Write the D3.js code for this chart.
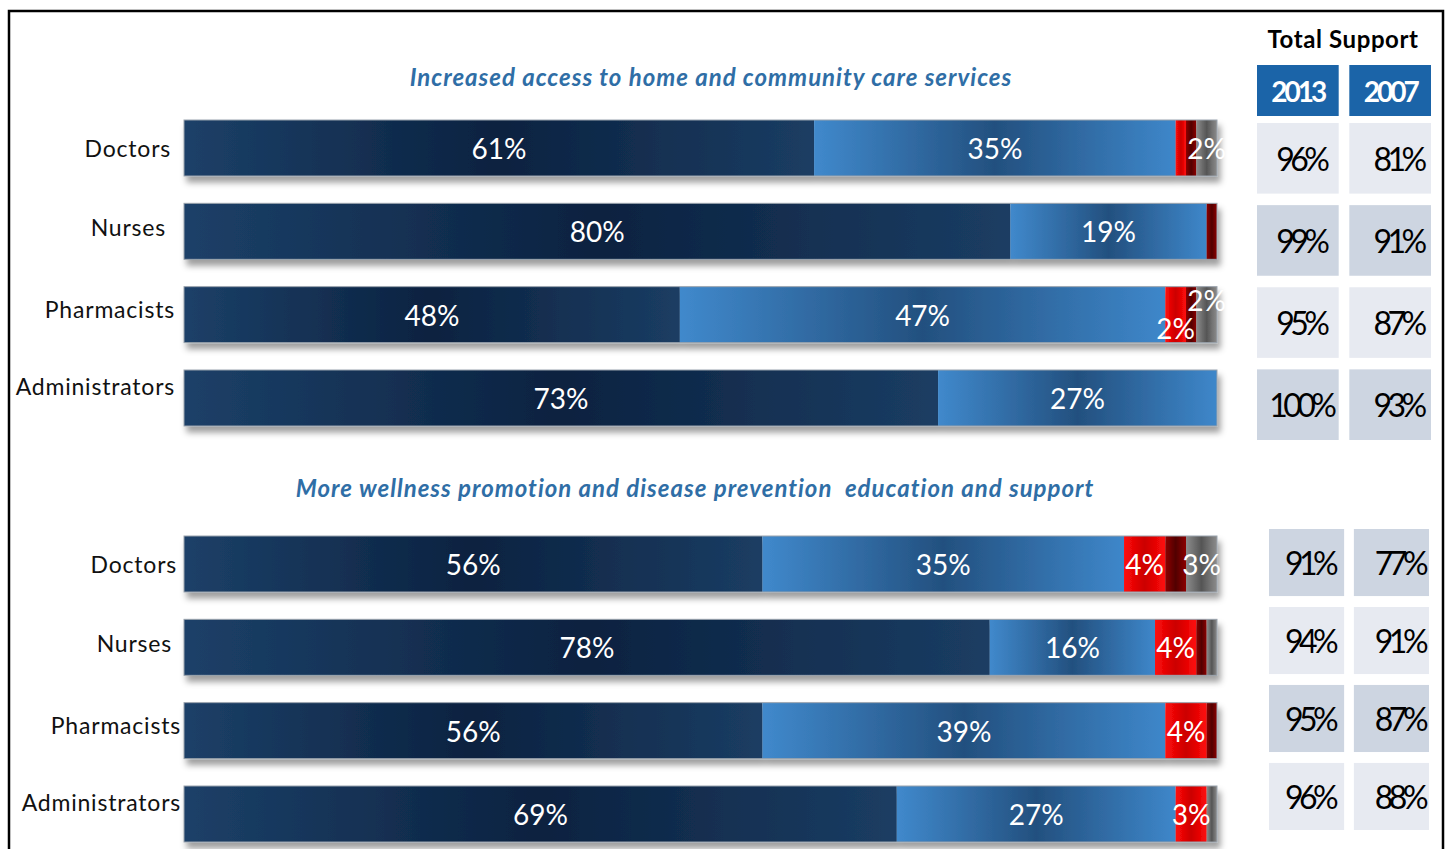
<!DOCTYPE html>
<html>
<head>
<meta charset="utf-8">
<script src="https://cdn.jsdelivr.net/npm/d3@7"></script>
<style>
  body { margin: 0; background: #fff; }
  svg { display: block; }
  text { font-family: Lato, "Open Sans", "DejaVu Sans", sans-serif; }
</style>
</head>
<body>
<svg id="chart" width="1452" height="849"></svg>
<script>
// ---- data -------------------------------------------------------------
const categories = ["Doctors", "Nurses", "Pharmacists", "Administrators"];
const sectionTitles = [
  "Increased access to home and community care services",
  "More wellness promotion and disease prevention  education and support"
];
const seriesKeys = ["strongSupport", "someSupport", "someOppose", "strongOppose", "unsure"];

// Section 1: home and community care
const strongSupport1 = [61, 80, 48, 73];
const someSupport1   = [35, 19, 47, 27];
const someOppose1    = [1, 0, 2, 0];
const strongOppose1  = [1, 1, 1, 0];
const unsure1        = [2, 0, 2, 0];

// Section 2: wellness promotion and prevention
const strongSupport2 = [56, 78, 56, 69];
const someSupport2   = [35, 16, 39, 27];
const someOppose2    = [4, 4, 4, 3];
const strongOppose2  = [2, 1, 1, 0];
const unsure2        = [3, 1, 0, 1];

// Total support columns
const years = ["2013", "2007"];
const total2013_1 = [96, 99, 95, 100];
const total2007_1 = [81, 91, 87, 93];
const total2013_2 = [91, 94, 95, 96];
const total2007_2 = [77, 91, 87, 88];

// ---- assembled tables -------------------------------------------------
function rows(series) {
  return categories.map((c, i) => {
    const r = { category: c };
    seriesKeys.forEach((k, j) => { r[k] = series[j][i]; });
    return r;
  });
}
const sections = [
  {
    title: sectionTitles[0],
    rows: rows([strongSupport1, someSupport1, someOppose1, strongOppose1, unsure1]),
    totals: [total2013_1, total2007_1]
  },
  {
    title: sectionTitles[1],
    rows: rows([strongSupport2, someSupport2, someOppose2, strongOppose2, unsure2]),
    totals: [total2013_2, total2007_2]
  }
];

// ---- styling / layout -------------------------------------------------
const seriesStyle = {
  strongSupport: { stops: ["#1c4068", "#0b2240", "#1b3d63"], label: true },
  someSupport:   { stops: ["#4089cc", "#23507f", "#3e87ca"], label: true },
  someOppose:    { stops: ["#ff0a0a", "#cc0000", "#ff0a0a"], label: true },
  strongOppose:  { stops: ["#8c0000", "#520000", "#8c0000"], label: false },
  unsure:        { stops: ["#8c8c8c", "#555555", "#8c8c8c"], label: true }
};
const layout = [
  { barTop: 120, barBottom: 426, titleX: 711, titleY: 86,
    tableTop: 123, tableBottom: 440, tableX: [1257, 1431], labelRight: 175, shade0: 0 },
  { barTop: 536, barBottom: 842, titleX: 695, titleY: 497,
    tableTop: 529, tableBottom: 830, tableX: [1269, 1429], labelRight: 181, shade0: 1 }
];
const labelNudgeX = [-4, -9, 0, 0];
const labelNudgeY = [0, -4, -6, -12];
const cellShades = ["#e7eaf1", "#cdd5e1"];

const svg = d3.select("#chart");
const defs = svg.append("defs");

// horizontal sheen gradient for each series
seriesKeys.forEach(k => {
  const g = defs.append("linearGradient").attr("id", "grad-" + k)
    .attr("x1", 0).attr("x2", 1).attr("y1", 0).attr("y2", 0);
  const s = seriesStyle[k].stops;
  g.append("stop").attr("offset", "0%").attr("stop-color", s[0]);
  g.append("stop").attr("offset", "50%").attr("stop-color", s[1]);
  g.append("stop").attr("offset", "100%").attr("stop-color", s[2]);
});

const shadow = defs.append("filter").attr("id", "barShadow")
  .attr("x", "-2%").attr("y", "-20%").attr("width", "104%").attr("height", "170%");
shadow.append("feDropShadow").attr("dx", 3).attr("dy", 6)
  .attr("stdDeviation", 3).attr("flood-color", "#000").attr("flood-opacity", 0.38);

// outer frame
svg.append("rect").attr("x", 9).attr("y", 11).attr("width", 1434).attr("height", 860)
  .attr("fill", "none").attr("stroke", "#000").attr("stroke-width", 2.5);

const x = d3.scaleLinear().domain([0, 100]).range([184, 1217]);
const stack = d3.stack().keys(seriesKeys);

sections.forEach((sec, si) => {
  const L = layout[si];
  const y = d3.scaleBand().domain(categories)
    .range([L.barTop, L.barBottom]).paddingInner(0.328);

  // section title
  svg.append("text")
    .attr("x", L.titleX).attr("y", L.titleY)
    .attr("text-anchor", "middle")
    .style("white-space", "pre")
    .attr("font-size", 24).attr("letter-spacing", 1)
    .attr("font-weight", 700).attr("font-style", "italic")
    .attr("fill", "#2f6ea6")
    .text(sec.title);

  // category labels
  svg.append("g").selectAll("text").data(categories).join("text")
    .attr("x", (d, i) => L.labelRight + labelNudgeX[i])
    .attr("y", (d, i) => y(d) + y.bandwidth() / 2 + labelNudgeY[i])
    .attr("text-anchor", "end").attr("dominant-baseline", "central")
    .attr("font-size", 23).attr("letter-spacing", 0.8).attr("fill", "#111")
    .text(d => d);

  const stacked = stack(sec.rows);

  // bars, one shadowed group per row
  const rowG = svg.append("g").selectAll("g.row").data(categories).join("g")
    .attr("class", "row").attr("filter", "url(#barShadow)");
  rowG.each(function (cat, ri) {
    const g = d3.select(this);
    stacked.forEach(layer => {
      const seg = layer[ri];
      if (seg[1] - seg[0] <= 0) return;
      g.append("rect")
        .attr("x", x(seg[0])).attr("y", y(cat))
        .attr("width", x(seg[1]) - x(seg[0])).attr("height", y.bandwidth())
        .attr("fill", "url(#grad-" + layer.key + ")");
    });
    g.append("rect")
      .attr("x", x(0)).attr("y", y(cat))
      .attr("width", x(100) - x(0)).attr("height", y.bandwidth())
      .attr("fill", "none").attr("stroke", "#9aa3ad").attr("stroke-width", 1);
  });

  // segment value labels
  categories.forEach((cat, ri) => {
    const labels = [];
    stacked.forEach(layer => {
      const seg = layer[ri];
      const v = seg[1] - seg[0];
      if (!seriesStyle[layer.key].label || v < 2) return;
      labels.push({ cx: (x(seg[0]) + x(seg[1])) / 2, dy: 0, text: v + "%" });
    });
    // stagger labels that would collide
    for (let i = 1; i < labels.length; i++) {
      if (labels[i].cx - labels[i - 1].cx < 40) {
        labels[i - 1].dy = 13;
        labels[i].dy = -15;
      }
    }
    svg.append("g").selectAll("text").data(labels).join("text")
      .attr("x", d => d.cx)
      .attr("y", d => y(cat) + y.bandwidth() / 2 + d.dy)
      .attr("text-anchor", "middle").attr("dominant-baseline", "central")
      .attr("font-size", 28).attr("fill", "#fff")
      .text(d => d.text);
  });

  // total support table
  const col = d3.scaleBand().domain(years).range(L.tableX).paddingInner(0.115);
  const row = d3.scaleBand().domain(categories)
    .range([L.tableTop, L.tableBottom]).paddingInner(0.14);
  const cells = [];
  years.forEach((yr, ci) => categories.forEach((cat, ri) => {
    cells.push({ yr, cat, ri, ci, v: sec.totals[ci][ri] });
  }));
  const cg = svg.append("g").selectAll("g").data(cells).join("g");
  cg.append("rect")
    .attr("x", d => col(d.yr)).attr("y", d => row(d.cat))
    .attr("width", col.bandwidth()).attr("height", row.bandwidth())
    .attr("fill", d => cellShades[(d.ri + L.shade0) % 2]);
  cg.append("text")
    .attr("x", d => col(d.yr) + col.bandwidth() / 2 + (d.ci === 0 ? 3 : 8))
    .attr("y", d => row(d.cat) + row.bandwidth() / 2)
    .attr("text-anchor", "middle").attr("dominant-baseline", "central")
    .attr("font-size", 32).attr("letter-spacing", -4.5).attr("fill", "#000")
    .text(d => d.v + "%");

  if (si === 0) {
    svg.append("text")
      .attr("x", 1343).attr("y", 48)
      .attr("text-anchor", "middle")
      .attr("font-size", 24).attr("letter-spacing", 0.6)
      .attr("font-weight", 700).attr("fill", "#000")
      .text("Total Support");
    const hg = svg.append("g").selectAll("g").data(years).join("g");
    hg.append("rect")
      .attr("x", d => col(d)).attr("y", 65)
      .attr("width", col.bandwidth()).attr("height", 51)
      .attr("fill", "#1b64a8");
    hg.append("text")
      .attr("x", d => col(d) + col.bandwidth() / 2)
      .attr("y", 91)
      .attr("text-anchor", "middle").attr("dominant-baseline", "central")
      .attr("font-size", 28).attr("font-weight", 700).attr("letter-spacing", -3)
      .attr("fill", "#fff")
      .text(d => d);
  }
});
</script>
</body>
</html>
